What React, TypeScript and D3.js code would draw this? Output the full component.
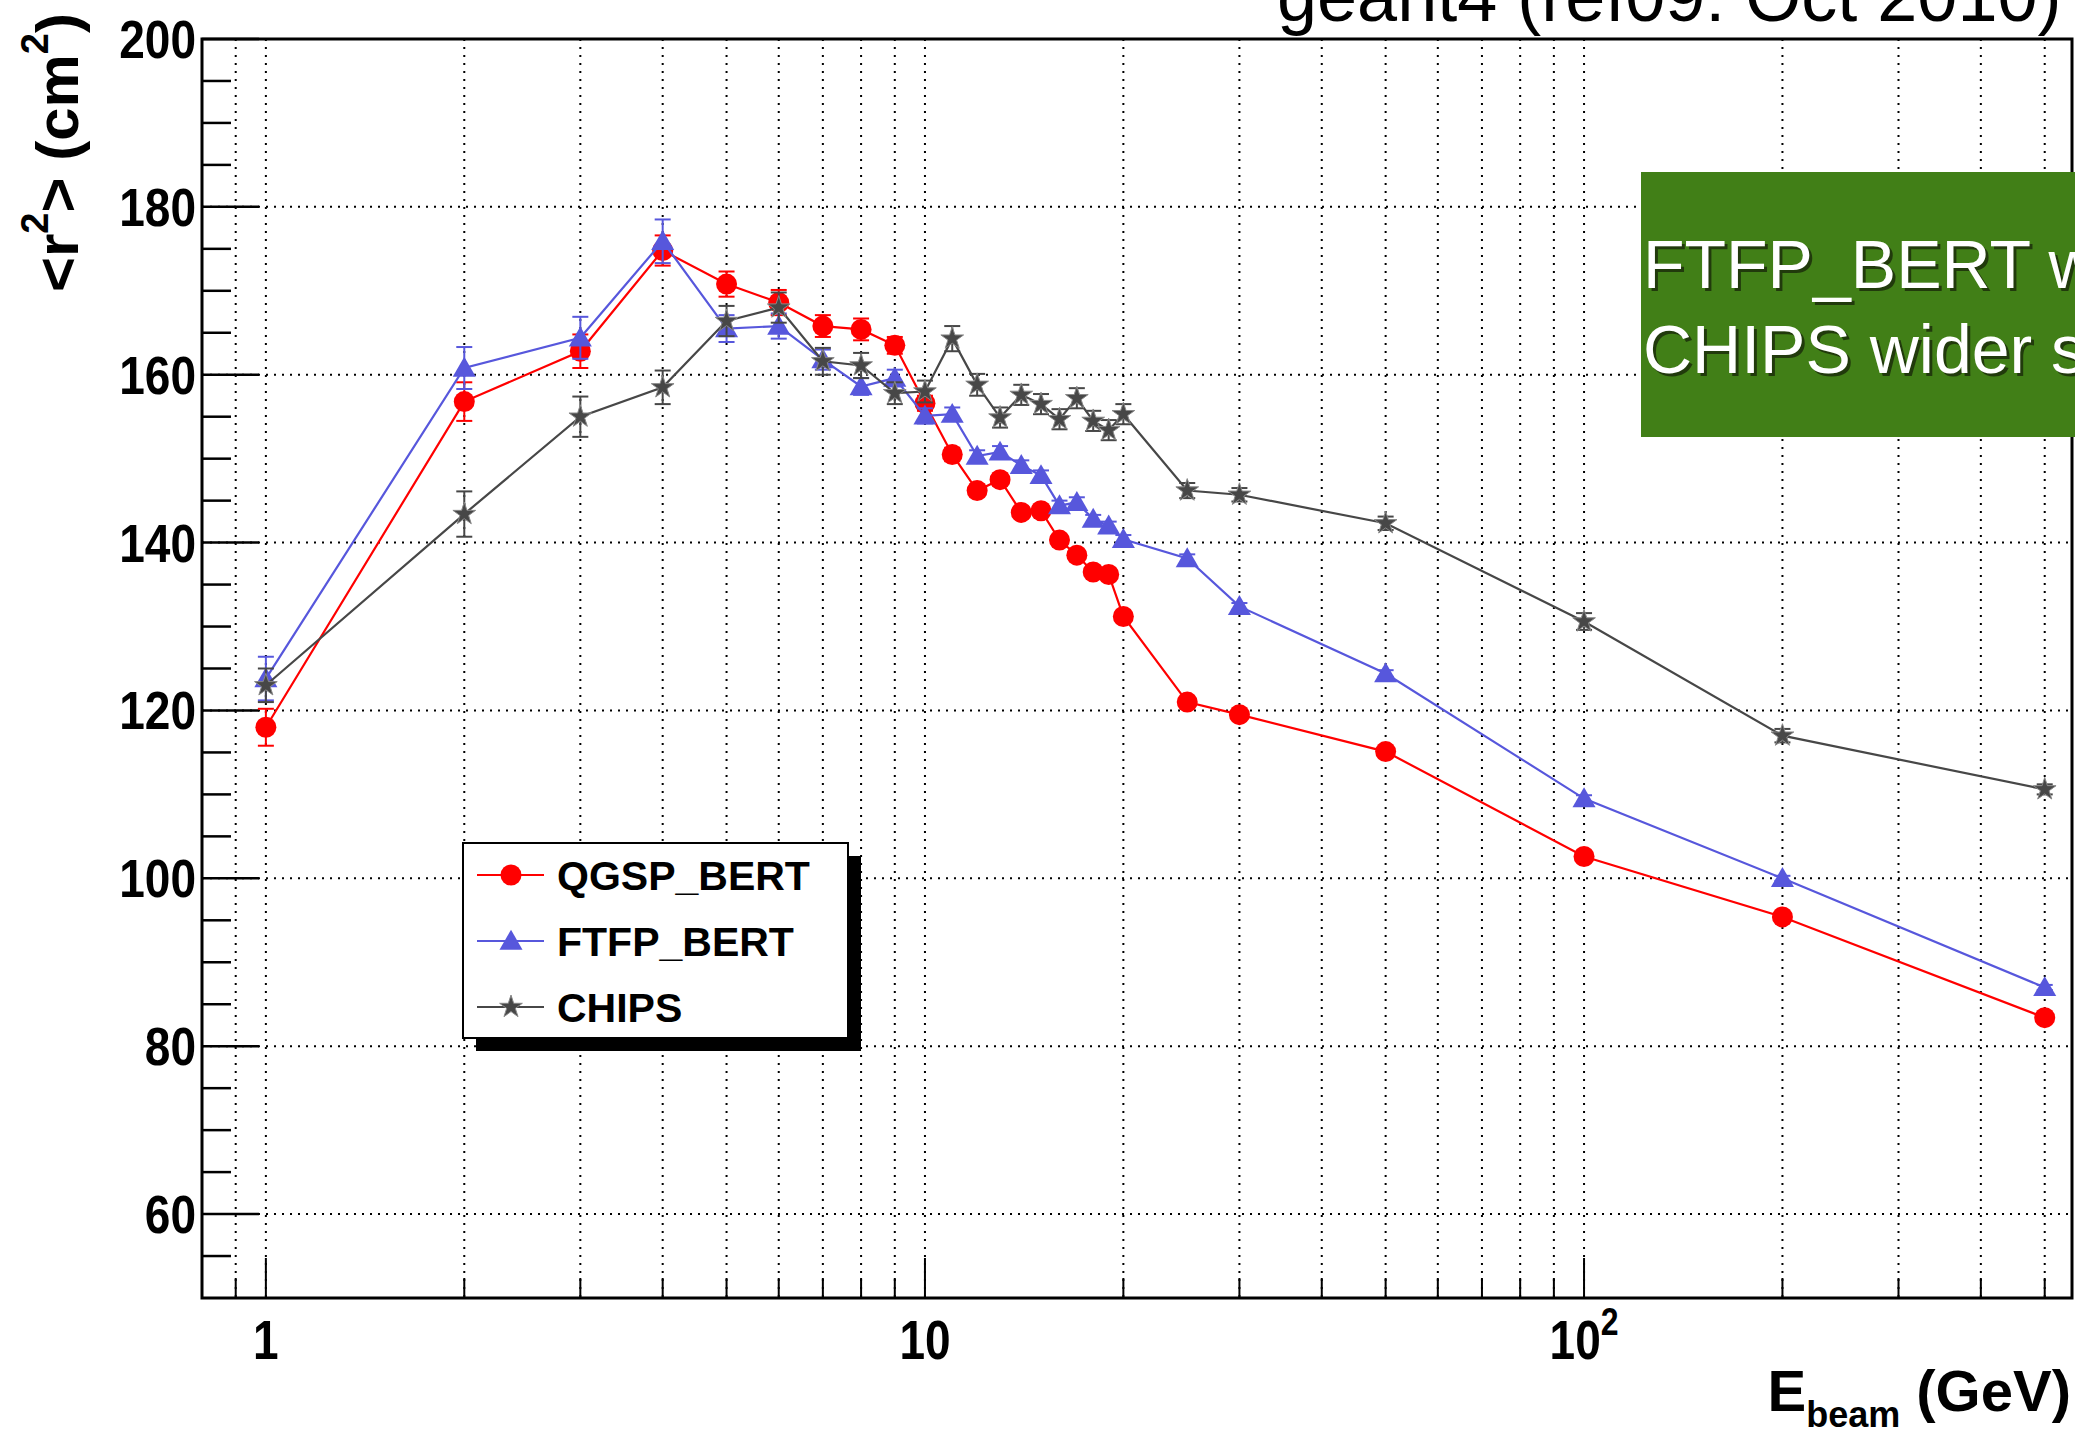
import React from 'react';
import * as d3 from 'd3';

// beam energies (GeV)
const energies = [1, 2, 3, 4, 5, 6, 7, 8, 9, 10, 11, 12, 13, 14, 15, 16, 17, 18, 19, 20, 25, 30, 50, 100, 200, 500];

const qgspBert = [118.0, 156.8, 162.8, 174.8, 170.8, 168.6, 165.8, 165.4, 163.5, 156.6, 150.5, 146.2, 147.5, 143.6, 143.8, 140.3, 138.5, 136.5, 136.2, 131.2, 121.0, 119.5, 115.1, 102.6, 95.4, 83.4];
const qgspErr = [2.2, 2.3, 2.0, 1.8, 1.5, 1.5, 1.3, 1.3, 1.0, 0.9, 0.8, 0.7, 0.7, 0.6, 0.6, 0.6, 0.6, 0.5, 0.5, 0.5, 0.5, 0.4, 0.4, 0.4, 0.3, 0.3];

const ftfpBert = [123.8, 160.8, 164.4, 175.9, 165.5, 165.8, 161.8, 158.6, 159.6, 155.1, 155.3, 150.3, 150.8, 149.2, 148.0, 144.4, 144.8, 142.8, 142.0, 140.4, 138.1, 132.4, 124.4, 109.5, 100.0, 87.0];
const ftfpErr = [2.6, 2.5, 2.5, 2.6, 1.6, 1.5, 1.2, 1.0, 1.0, 0.9, 0.8, 0.7, 0.7, 0.6, 0.6, 0.6, 0.6, 0.5, 0.5, 0.5, 0.5, 0.4, 0.4, 0.4, 0.3, 0.3];

const chips = [123.0, 143.4, 155.0, 158.5, 166.4, 168.0, 161.6, 161.1, 157.8, 158.0, 164.3, 158.8, 154.9, 157.6, 156.5, 154.7, 157.2, 154.5, 153.4, 155.3, 146.2, 145.7, 142.3, 130.6, 117.0, 110.6];
const chipsErr = [2.0, 2.7, 2.4, 2.0, 1.8, 1.8, 1.6, 1.5, 1.3, 1.3, 1.5, 1.3, 1.2, 1.2, 1.2, 1.2, 1.2, 1.2, 1.2, 1.2, 0.9, 0.8, 0.8, 1.0, 0.8, 0.6];

const yTicks = [60, 80, 100, 120, 140, 160, 180, 200];
const xGrid = [0.9, 1, 2, 3, 4, 5, 6, 7, 8, 9, 10, 20, 30, 40, 50, 60, 70, 80, 90, 100, 200, 300, 400, 500];
const xMajor = [1, 10, 100];

const series = [
  { name: 'QGSP_BERT', values: qgspBert, errs: qgspErr, color: '#ff0000', marker: 'circle' },
  { name: 'FTFP_BERT', values: ftfpBert, errs: ftfpErr, color: '#5757dc', marker: 'triangle' },
  { name: 'CHIPS', values: chips, errs: chipsErr, color: '#474747', marker: 'star' },
];

const FONT = 'Liberation Sans, Arial, Helvetica, sans-serif';

function Marker({ kind, x, y, color }) {
  if (kind === 'circle') return <circle cx={x} cy={y} r={10.5} fill={color} />;
  const sym = kind === 'triangle'
    ? d3.symbol(d3.symbolTriangle, 230)
    : d3.symbol(d3.symbolStar, 160);
  const dy = kind === 'triangle' ? 2 : 0;
  return <path d={sym()} transform={`translate(${x},${y + dy})`} fill={color} stroke={kind === 'star' ? '#888' : 'none'} strokeWidth={1} />;
}

export default function App() {
  const left = 202, right = 2072, top = 39, bottom = 1298;
  const x = d3.scaleLog().domain([0.8, 550]).range([left, right]);
  const y = d3.scaleLinear().domain([50, 200]).range([bottom, top]);

  const minorY = d3.range(55, 200, 5).filter(v => v % 20 !== 0);

  const line = d3.line<number>()
    .x((_, i) => x(energies[i]))
    .y(d => y(d));

  return (
    <div style={{ position: 'absolute', left: 0, top: 0 }}>
      <svg width={2075} height={1440} style={{ display: 'block', background: '#fff' }}>
        {/* title, cut at the top edge as in the slide */}
        <text x={1277} y={21} fontFamily={FONT} fontSize={72} fill="#000">geant4 (ref09: Oct 2010)</text>

        {/* grid */}
        <g stroke="#000" strokeWidth={2} strokeDasharray="2 6" fill="none">
          {xGrid.map(v => (
            <line key={`gx${v}`} x1={x(v)} x2={x(v)} y1={top} y2={bottom} />
          ))}
          {yTicks.filter(v => v < 200).map(v => (
            <line key={`gy${v}`} x1={left} x2={right} y1={y(v)} y2={y(v)} />
          ))}
        </g>

        {/* y ticks */}
        <g stroke="#000" strokeWidth={2.5}>
          {yTicks.map(v => <line key={`ty${v}`} x1={left} x2={left + 57} y1={y(v)} y2={y(v)} />)}
          {minorY.map(v => <line key={`tm${v}`} x1={left} x2={left + 29} y1={y(v)} y2={y(v)} />)}
        </g>
        {/* x ticks */}
        <g stroke="#000" strokeWidth={2}>
          {xGrid.map(v => (
            <line key={`tx${v}`} x1={x(v)} x2={x(v)} y1={bottom} y2={bottom - (xMajor.includes(v) ? 40 : 20)} />
          ))}
        </g>

        {/* frame */}
        <rect x={left} y={top} width={right - left} height={bottom - top} fill="none" stroke="#000" strokeWidth={3} />

        {/* y tick labels */}
        <g fontFamily={FONT} fontWeight="bold" fontSize={46} textAnchor="end" fill="#000">
          {yTicks.map(v => (
            <g key={`ly${v}`} transform={`translate(${left - 6},${y(v) + 19}) scale(1,1.16)`}>
              <text x={0} y={0}>{v}</text>
            </g>
          ))}
        </g>

        {/* x tick labels */}
        <g fontFamily={FONT} fontWeight="bold" fontSize={46} textAnchor="middle" fill="#000">
          <g transform={`translate(${x(1)},1359) scale(1,1.22)`}><text>1</text></g>
          <g transform={`translate(${x(10)},1359) scale(1,1.22)`}><text>10</text></g>
          <g transform={`translate(${x(100)},1359) scale(1,1.22)`}>
            <text>10<tspan fontSize={32} dy={-20}>2</tspan></text>
          </g>
        </g>

        {/* axis titles */}
        <text x={2071} y={1411} textAnchor="end" fontFamily={FONT} fontWeight="bold" fontSize={58}>
          E<tspan fontSize={36} dy={16}>beam</tspan><tspan dy={-16}> (GeV)</tspan>
        </text>
        <text transform="translate(78,13) rotate(-90)" textAnchor="end" fontFamily={FONT} fontWeight="bold" fontSize={60}>
          &lt;r<tspan fontSize={38} dy={-30}>2</tspan><tspan dy={30}>&gt; (cm</tspan><tspan fontSize={38} dy={-30}>2</tspan><tspan dy={30}>)</tspan>
        </text>

        {/* series */}
        {series.map(s => (
          <g key={s.name}>
            <path d={line(s.values) ?? ''} fill="none" stroke={s.color} strokeWidth={2.2} />
            <g stroke={s.color} strokeWidth={2}>
              {s.values.map((v, i) => {
                const cx = x(energies[i]);
                return (
                  <g key={i}>
                    <line x1={cx} x2={cx} y1={y(v - s.errs[i])} y2={y(v + s.errs[i])} />
                    <line x1={cx - 8} x2={cx + 8} y1={y(v - s.errs[i])} y2={y(v - s.errs[i])} />
                    <line x1={cx - 8} x2={cx + 8} y1={y(v + s.errs[i])} y2={y(v + s.errs[i])} />
                  </g>
                );
              })}
            </g>
            {s.values.map((v, i) => (
              <Marker key={i} kind={s.marker} x={x(energies[i])} y={y(v)} color={s.color} />
            ))}
          </g>
        ))}

        {/* legend */}
        <g>
          <rect x={476} y={856} width={385} height={195} fill="#000" />
          <rect x={463} y={843} width={385} height={195} fill="#fff" stroke="#000" strokeWidth={2} />
          {series.map((s, i) => {
            const ly = 875 + i * 66;
            return (
              <g key={s.name}>
                <line x1={477} x2={544} y1={ly} y2={ly} stroke={s.color} strokeWidth={2.2} />
                <Marker kind={s.marker} x={511} y={ly} color={s.color} />
                <text x={557} y={ly} dy="0.36em" fontFamily={FONT} fontWeight="bold" fontSize={41}>{s.name}</text>
              </g>
            );
          })}
        </g>

        {/* annotation box */}
        <rect x={1641} y={172} width={440} height={265} fill="#417f17" />
        <g fontFamily={FONT} fontSize={68}>
          <text x={1646} y={291} fill="#1a2a0a" opacity={0.8}>FTFP_BERT wider</text>
          <text x={1643} y={288} fill="#fff">FTFP_BERT wider</text>
          <text x={1646} y={376} fill="#1a2a0a" opacity={0.8}>CHIPS wider  still</text>
          <text x={1643} y={373} fill="#fff">CHIPS wider  still</text>
        </g>
      </svg>
    </div>
  );
}
